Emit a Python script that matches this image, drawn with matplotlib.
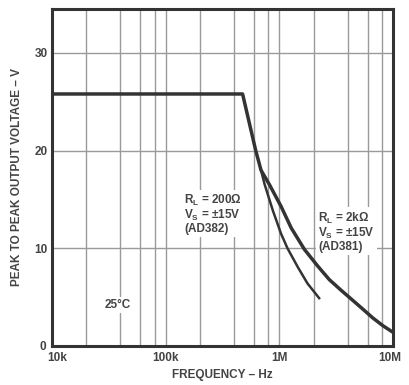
import matplotlib
matplotlib.use("Agg")
import matplotlib.pyplot as plt
import matplotlib.transforms as mtransforms
from matplotlib.ticker import FixedLocator, NullFormatter

# Data
ad381_f = [1e4, 4.75e5, 6.2e5, 6.9e5, 8.2e5, 1.035e6, 1.27e6, 1.66e6, 2.17e6, 2.75e6,
           3.5e6, 4.4e6, 5.4e6, 6.6e6, 8.1e6, 1e7]
ad381_v = [25.8, 25.8, 20.0, 18.0, 16.5, 14.3, 12.1, 9.9, 8.2, 6.8,
           5.7, 4.7, 3.8, 2.9, 2.1, 1.4]
ad382_f = [6.9e5, 7.4e5, 8.75e5, 1.035e6, 1.18e6, 1.45e6, 1.77e6, 2.24e6]
ad382_v = [18.0, 16.6, 13.9, 11.5, 10.0, 8.1, 6.4, 4.9]

xticks = [1e4, 1e5, 1e6, 1e7]
xticklabels = ["10k", "100k", "1M", "10M"]
yticks = [0, 10, 20, 30]
yticklabels = ["0", "10", "20", "30"]
minor_x = [m * d for d in [1e4, 1e5, 1e6] for m in (2, 4, 6, 8)]

ink = "#333333"
txt = "#444444"
gridc = "#9a9a9a"
plt.rcParams['font.family'] = ['Liberation Sans', 'DejaVu Sans']

fig = plt.figure(figsize=(4.10, 3.85), dpi=100)
ax = fig.add_axes([52/410, 1-346/385, (393-52)/410, (346-9)/385])
ax.set_xscale("log")
ax.set_xlim(1e4, 1e7)
ax.set_ylim(0, 34.5)

ax.xaxis.set_major_locator(FixedLocator(xticks))
ax.xaxis.set_minor_locator(FixedLocator(minor_x))
ax.xaxis.set_minor_formatter(NullFormatter())
ax.set_xticklabels(xticklabels)
ax.set_yticks(yticks)
ax.set_yticklabels(yticklabels)

ax.grid(True, which="major", color=gridc, lw=1.0)
ax.grid(True, which="minor", axis="x", color=gridc, lw=1.0)

ax.plot(ad381_f, ad381_v, color=ink, lw=2.5, solid_joinstyle="round", zorder=4)
ax.plot(ad382_f, ad382_v, color=ink, lw=1.8, solid_joinstyle="round", zorder=4)

for s in ax.spines.values():
    s.set_linewidth(2.2)
    s.set_color(ink)

ax.tick_params(axis="both", which="both", length=0, colors=ink, labelsize=8.5)
ax.tick_params(axis="x", pad=4)
ax.tick_params(axis="y", pad=3)
for lab in ax.get_xticklabels() + ax.get_yticklabels():
    lab.set_fontweight("bold")
    lab.set_color(txt)

# small offsets to mimic the reference label placement
def shift(label, dx, dy):
    off = mtransforms.ScaledTranslation(dx / 100, dy / 100, fig.dpi_scale_trans)
    label.set_transform(label.get_transform() + off)

xl = ax.get_xticklabels()
shift(xl[0], 5, 0)
shift(xl[-1], -3, 0)
yl = ax.get_yticklabels()
shift(yl[0], -2, 1)

ax.set_xlabel("FREQUENCY \u2013 Hz", fontsize=8.5, fontweight="bold", color=txt, labelpad=4)
ax.set_ylabel("PEAK TO PEAK OUTPUT VOLTAGE \u2013 V", fontsize=8.5, fontweight="bold", color=txt, labelpad=8)

box = dict(facecolor="white", edgecolor="none", pad=1.5)
ax.text(1.45e5, 13.5, "R$_\\mathregular{L}$ = 200\u03a9\nV$_\\mathregular{S}$ = \u00b115V\n(AD382)",
        fontsize=8.5, fontweight="bold", color=txt, ha="left", va="center",
        linespacing=1.0, bbox=box, zorder=3)
ax.text(2.2e6, 11.7, "R$_\\mathregular{L}$ = 2k\u03a9\nV$_\\mathregular{S}$ = \u00b115V\n(AD381)",
        fontsize=8.5, fontweight="bold", color=txt, ha="left", va="center",
        linespacing=1.0, bbox=box, zorder=3)
ax.text(3.8e4, 4.2, "25\u00b0C", fontsize=8.5, fontweight="bold", color=txt,
        ha="center", va="center", bbox=box, zorder=3)

fig.savefig("out.png", dpi=100)
